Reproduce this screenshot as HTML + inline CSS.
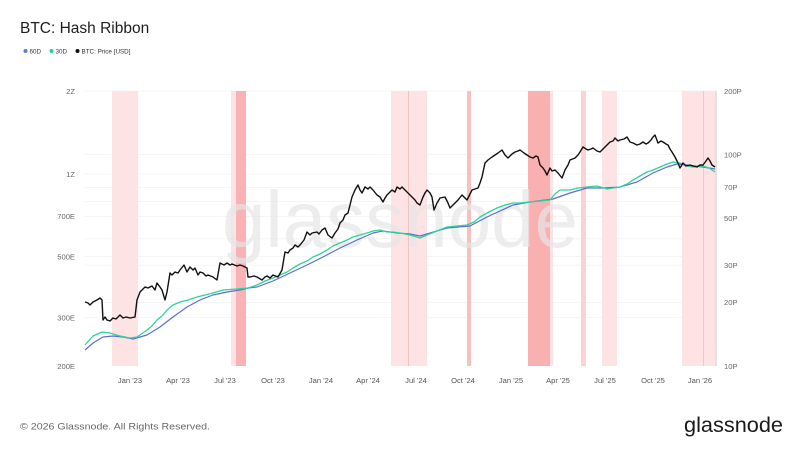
<!DOCTYPE html>
<html><head><meta charset="utf-8"><style>
html,body{margin:0;padding:0;background:#fff;}
svg{display:block;font-family:"Liberation Sans",sans-serif;}
</style></head><body>
<svg width="800" height="450" viewBox="0 0 800 450" xmlns="http://www.w3.org/2000/svg">
<rect width="800" height="450" fill="#fff"/>
<text x="20" y="33" font-size="15.5" fill="#1e1e1e">BTC: Hash Ribbon</text>
<circle cx="25.5" cy="51" r="2" fill="#5b7fd0"/><text x="29.5" y="53.3" font-size="6.3" fill="#333">60D</text>
<circle cx="51.5" cy="51" r="2" fill="#2ecf9a"/><text x="55.5" y="53.3" font-size="6.3" fill="#333">30D</text>
<circle cx="77.5" cy="51" r="2" fill="#111"/><text x="81.5" y="53.3" font-size="6.3" fill="#333">BTC: Price [USD]</text>

<!-- gridlines -->
<g stroke="#f2f2f2" stroke-width="0.8">
<line x1="85" x2="716" y1="91" y2="91"/><line x1="85" x2="716" y1="174" y2="174"/>
<line x1="85" x2="716" y1="216.4" y2="216.4"/><line x1="85" x2="716" y1="256.6" y2="256.6"/>
<line x1="85" x2="716" y1="317.6" y2="317.6"/>
<line x1="85" x2="716" y1="154.6" y2="154.6"/><line x1="85" x2="716" y1="187.4" y2="187.4"/>
<line x1="85" x2="716" y1="201.5" y2="201.5"/><line x1="85" x2="716" y1="238.8" y2="238.8"/>
<line x1="85" x2="716" y1="265.2" y2="265.2"/><line x1="85" x2="716" y1="302.4" y2="302.4"/>
</g>

<!-- bands -->
<g>
<rect x="112" y="91" width="26" height="275" fill="#fde3e3"/>
<rect x="231" y="91" width="5" height="275" fill="#fde3e3"/>
<rect x="236" y="91" width="10" height="275" fill="#f9b3b4"/>
<rect x="391" y="91" width="36" height="275" fill="#fde3e3"/>
<rect x="408" y="91" width="1" height="275" fill="#f1c2c2"/>
<rect x="467" y="91" width="4" height="275" fill="#f7c0c0"/>
<rect x="528" y="91" width="22" height="275" fill="#f9b0b1"/>
<rect x="550" y="91" width="3" height="275" fill="#fde3e3"/>
<rect x="581" y="91" width="5" height="275" fill="#fbd3d3"/>
<rect x="602" y="91" width="15" height="275" fill="#fde3e3"/>
<rect x="682" y="91" width="33" height="275" fill="#fde3e3"/>
<rect x="703" y="91" width="1" height="275" fill="#f1c8c8"/>
</g>

<!-- watermark -->
<text x="222" y="247" font-size="80" fill="#e6e6e6" fill-opacity="0.7" textLength="356" lengthAdjust="spacingAndGlyphs">glassnode</text>

<!-- right axis line -->
<line x1="716" x2="716" y1="91" y2="366" stroke="#c4c4c4" stroke-width="1"/>

<!-- series -->
<polyline fill="none" stroke="#5b6fd0" stroke-width="1.2" stroke-linejoin="round" points="85,350 93,343 103,337 113,336 123,337 133,339 147,335 160,327 173,317 187,307 200,300 213,295 227,292 240,290 248,288 257,287 273,281 290,273 307,265 323,257 340,248 357,240 373,233 383,231 397,233 410,234 420,236 447,228 470,226 487,217 513,205 530,202 553,199 570,193 587,188 603,188 620,187 637,182 653,173 667,167 677,164 687,165 703,167 715,169"/>
<polyline fill="none" stroke="#2fd39a" stroke-width="1.3" stroke-linejoin="round" points="85,345 93,336 102,332 110,333 120,336 130,338 137,337 147,330 152,326 157,320 162,316 167,310 173,305 180,302 188,300 197,297 205,295 213,293 223,290 237,289 248,288 257,285 265,281 273,278 280,275 287,272 293,268 300,264 307,261 313,257 320,254 327,250 333,246 340,243 347,240 353,237 360,235 367,233 373,231 380,230 387,232 393,232 400,233 410,235 420,238 427,235 437,231 447,227 457,226 467,225 474,222 480,217 489,212 497,208 505,205 513,203 520,203 530,202 540,201 550,200 555,194 560,190 570,190 578,188 587,187 597,186 607,189 613,188 620,187 627,184 633,180 640,176 647,172 653,170 660,167 667,164 673,162 680,163 687,166 693,167 703,166 709,168 715,172"/>
<polyline fill="none" stroke="#111" stroke-width="1.4" stroke-linejoin="round" points="85,302 88,303 90,305 93,302 97,300 100,298 102,300 103,320 105,317 107,320 110,321 113,318 116,319 120,315 123,318 126,317 130,318 135,317 137,300 140,292 143,289 145,287 148,288 152,286 155,290 157,283 160,287 162,290 165,300 167,292 170,273 172,275 175,272 178,273 180,270 184,265 187,272 190,267 193,270 195,268 198,275 200,272 203,273 206,276 208,275 213,277 217,280 220,263 224,265 227,263 230,265 232,264 237,266 240,265 243,266 247,268 248,277 250,277 254,276 257,277 262,280 265,277 267,276 270,278 273,275 278,277 282,270 285,252 288,253 290,250 293,248 295,245 298,247 300,245 304,240 307,232 310,235 312,233 317,232 319,234 322,230 325,228 328,235 332,238 335,233 338,229 340,223 343,220 345,215 348,213 350,205 352,197 355,190 358,185 360,190 362,193 365,187 368,189 370,187 373,190 377,195 380,197 383,202 385,198 387,195 392,190 395,192 397,187 400,189 402,187 405,190 407,192 410,195 412,197 415,200 417,203 420,205 423,197 425,193 427,190 430,193 432,197 434,210 437,203 440,198 445,197 448,203 450,208 453,205 455,203 458,200 462,195 465,198 467,200 470,194 472,190 475,189 478,188 480,183 482,177 485,163 488,160 492,157 495,155 498,153 502,150 505,155 508,158 512,154 515,152 518,151 520,150 524,153 527,155 530,157 533,158 536,156 538,157 540,165 543,168 545,171 547,175 550,168 552,171 555,170 558,173 562,178 565,170 568,165 570,160 575,158 578,155 580,152 583,147 586,149 588,150 591,149 593,148 597,151 600,152 603,149 605,147 608,144 610,142 613,141 615,138 618,141 620,140 624,139 627,137 630,142 633,143 637,145 640,144 643,142 646,144 648,143 651,140 653,137 655,135 658,143 661,141 663,142 666,144 668,145 670,149 672,152 675,157 678,163 680,168 683,163 686,166 690,165 693,166 697,167 700,165 703,165 706,161 708,158 710,161 712,165 715,167"/>

<!-- left axis labels -->
<g font-size="7.6" fill="#666" text-anchor="end">
<text x="75" y="93.8">2Z</text>
<text x="75" y="176.8">1Z</text>
<text x="75" y="219.2">700E</text>
<text x="75" y="259.4">500E</text>
<text x="75" y="320.4">300E</text>
<text x="75" y="368.8">200E</text>
</g>
<!-- right axis labels -->
<g font-size="7.6" fill="#666">
<text x="724" y="93.8">200P</text>
<text x="724" y="157.4">100P</text>
<text x="724" y="190.2">70P</text>
<text x="724" y="221.1">50P</text>
<text x="724" y="268">30P</text>
<text x="724" y="305.2">20P</text>
<text x="724" y="368.8">10P</text>
</g>
<!-- x labels -->
<g font-size="7.6" fill="#555" text-anchor="middle">
<text x="130" y="383">Jan '23</text>
<text x="178" y="383">Apr '23</text>
<text x="225" y="383">Jul '23</text>
<text x="273" y="383">Oct '23</text>
<text x="321" y="383">Jan '24</text>
<text x="368" y="383">Apr '24</text>
<text x="416" y="383">Jul '24</text>
<text x="463" y="383">Oct '24</text>
<text x="511" y="383">Jan '25</text>
<text x="558" y="383">Apr '25</text>
<text x="605" y="383">Jul '25</text>
<text x="653" y="383">Oct '25</text>
<text x="700" y="383">Jan '26</text>
</g>

<!-- footer -->
<text x="20" y="429.5" font-size="9.6" fill="#666" textLength="190" lengthAdjust="spacingAndGlyphs">© 2026 Glassnode. All Rights Reserved.</text>
<text x="684" y="432" font-size="21" fill="#1a1a1a" textLength="99" lengthAdjust="spacingAndGlyphs">glassnode</text>
</svg>
</body></html>
